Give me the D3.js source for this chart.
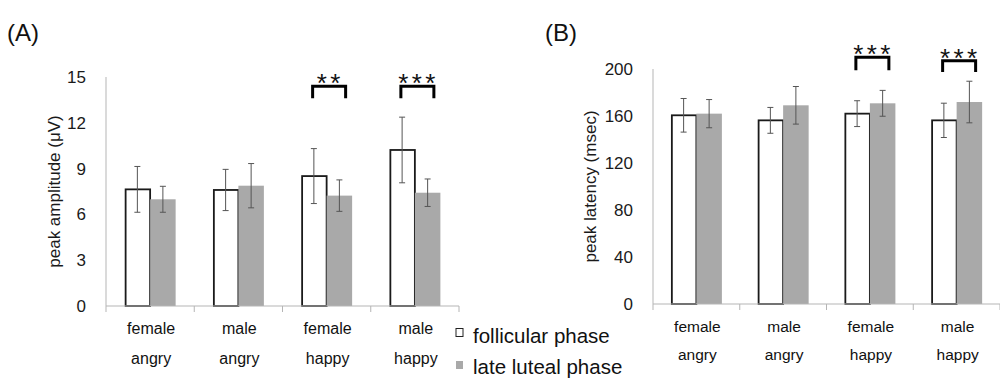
<!DOCTYPE html>
<html>
<head>
<meta charset="utf-8">
<script src="https://cdn.jsdelivr.net/npm/d3@7"></script>
<style>
  body { margin: 0; background: #fff; }
  svg { font-family: "Liberation Sans", Arial, sans-serif; }
</style>
</head>
<body>
<div id="chart"></div>
<script>
/* DATA */
const categories = ["female angry", "male angry", "female happy", "male happy"];
const series = ["follicular phase", "late luteal phase"];

// panel A: peak amplitude (uV)
const ampFollicular = [7.64, 7.6, 8.51, 10.22];
const ampFollicularErr = [1.5, 1.35, 1.8, 2.15];
const ampLuteal = [6.99, 7.88, 7.23, 7.42];
const ampLutealErr = [0.85, 1.45, 1.03, 0.9];
const ampTicks = [0, 3, 6, 9, 12, 15];
const ampSig = [
  { cat: "female happy", stars: "**", top: 14.4, bottom: 13.6 },
  { cat: "male happy", stars: "***", top: 14.4, bottom: 13.6 }
];

// panel B: peak latency (msec)
const latFollicular = [160.6, 156.3, 162, 156.3];
const latFollicularErr = [14.3, 11, 11, 14.6];
const latLuteal = [162, 169.1, 170.8, 171.9];
const latLutealErr = [12, 16, 11, 17.7];
const latTicks = [0, 40, 80, 120, 160, 200];
const latSig = [
  { cat: "female happy", stars: "***", top: 210, bottom: 199 },
  { cat: "male happy", stars: "***", top: 207, bottom: 197.5 }
];

const W = 1000, H = 388;
const svg = d3.select("#chart").append("svg")
  .attr("width", W)
  .attr("height", H);

const lutealFill = "#a9a9a9";
const starSpacing = 3.4;

function drawPanel(opt) {
  const x = d3.scaleBand()
    .domain(categories)
    .range([opt.left, opt.right])
    .paddingInner(0).paddingOuter(0);

  const xs = d3.scaleBand()
    .domain(series)
    .range([0, x.bandwidth()])
    .paddingInner(0).paddingOuter(opt.outerPad);

  const y = d3.scaleLinear()
    .domain([0, opt.max])
    .range([opt.bottom, opt.top]);

  const g = svg.append("g");

  // panel letter
  g.append("text")
    .attr("x", opt.letterX).attr("y", 41)
    .attr("font-size", 24).attr("fill", "#111")
    .text(opt.letter);

  // y axis line
  g.append("line")
    .attr("x1", opt.left).attr("x2", opt.left)
    .attr("y1", y(opt.max)).attr("y2", y(0))
    .attr("stroke", "#b5b5b5").attr("stroke-width", 1);

  // y tick labels
  g.selectAll(".ytick")
    .data(opt.ticks)
    .join("text")
    .attr("class", "ytick")
    .attr("x", opt.left - opt.tickGap)
    .attr("y", d => y(d))
    .attr("dy", "0.35em")
    .attr("text-anchor", "end")
    .attr("font-size", 17).attr("fill", "#1a1a1a")
    .text(d => d);

  // y axis title
  g.append("text")
    .attr("transform", `translate(${opt.titleX},${(y(opt.max) + y(0)) / 2}) rotate(-90)`)
    .attr("text-anchor", "middle")
    .attr("font-size", 17).attr("fill", "#1a1a1a")
    .text(opt.title);

  // bars
  const rows = categories.map((c, i) => [
    { cat: c, s: series[0], v: opt.foll[i], e: opt.follErr[i] },
    { cat: c, s: series[1], v: opt.lut[i], e: opt.lutErr[i] }
  ]).flat();

  g.selectAll(".bar")
    .data(rows)
    .join("rect")
    .attr("class", "bar")
    .attr("x", d => x(d.cat) + xs(d.s) + (d.s === series[0] ? 1 : 0))
    .attr("width", d => xs.bandwidth() - (d.s === series[0] ? 1 : 0))
    .attr("y", d => y(d.v))
    .attr("height", d => y(0) - y(d.v))
    .attr("fill", d => d.s === series[0] ? "#fff" : lutealFill)
    .attr("stroke", d => d.s === series[0] ? "#1a1a1a" : "none")
    .attr("stroke-width", 1.8);

  // x axis line + ticks
  g.append("line")
    .attr("x1", opt.left).attr("x2", opt.right)
    .attr("y1", y(0)).attr("y2", y(0))
    .attr("stroke", "#b5b5b5").attr("stroke-width", 1.2);

  g.selectAll(".xtick")
    .data(categories.map(c => x(c)).concat([opt.right]))
    .join("line")
    .attr("class", "xtick")
    .attr("x1", d => d).attr("x2", d => d)
    .attr("y1", y(0)).attr("y2", y(0) + 6)
    .attr("stroke", "#b5b5b5");

  // error bars
  const eb = g.selectAll(".err")
    .data(rows)
    .join("g")
    .attr("class", "err")
    .attr("transform", d => `translate(${x(d.cat) + xs(d.s) + xs.bandwidth() / 2},0)`)
    .attr("stroke", "#555").attr("stroke-width", 1);
  eb.append("line")
    .attr("y1", d => y(d.v + d.e)).attr("y2", d => y(d.v - d.e));
  eb.append("line")
    .attr("x1", -3).attr("x2", 3)
    .attr("y1", d => y(d.v + d.e)).attr("y2", d => y(d.v + d.e));
  eb.append("line")
    .attr("x1", -3).attr("x2", 3)
    .attr("y1", d => y(d.v - d.e)).attr("y2", d => y(d.v - d.e));

  // category labels (two lines)
  const lab = g.selectAll(".xlab")
    .data(categories)
    .join("g")
    .attr("class", "xlab")
    .attr("transform", d => `translate(${x(d) + x.bandwidth() / 2 + 1},0)`);
  lab.append("text")
    .attr("y", opt.lab1).attr("dy", "0.35em")
    .attr("text-anchor", "middle")
    .attr("font-size", opt.labSize).attr("fill", "#111")
    .text(d => d.split(" ")[0]);
  lab.append("text")
    .attr("y", opt.lab2).attr("dy", "0.35em")
    .attr("text-anchor", "middle")
    .attr("font-size", opt.labSize).attr("fill", "#111")
    .text(d => d.split(" ")[1]);

  // significance brackets
  const sg = g.selectAll(".sig")
    .data(opt.sig)
    .join("g")
    .attr("class", "sig")
    .attr("transform", d => `translate(${x(d.cat) + x.bandwidth() / 2 + 2},0)`);
  sg.append("path")
    .attr("d", d => `M-16,${y(d.bottom)}V${y(d.top)}H17V${y(d.bottom)}`)
    .attr("fill", "none").attr("stroke", "#000").attr("stroke-width", 3);
  sg.append("text")
    .attr("x", starSpacing / 2)
    .attr("y", d => y(d.top) + 6)
    .attr("text-anchor", "middle")
    .attr("letter-spacing", starSpacing)
    .attr("font-size", 26).attr("fill", "#111")
    .text(d => d.stars);
}

drawPanel({
  letter: "(A)", letterX: 7,
  left: 106, right: 459, top: 77, bottom: 306,
  max: 15, ticks: ampTicks, tickGap: 20, outerPad: 0.73,
  title: "peak amplitude (\u03bcV)", titleX: 60,
  foll: ampFollicular, follErr: ampFollicularErr,
  lut: ampLuteal, lutErr: ampLutealErr,
  sig: ampSig, lab1: 328, lab2: 358, labSize: 16
});

drawPanel({
  letter: "(B)", letterX: 545,
  left: 653, right: 1000, top: 69, bottom: 304,
  max: 200, ticks: latTicks, tickGap: 20, outerPad: 0.70,
  title: "peak latency (msec)", titleX: 596,
  foll: latFollicular, follErr: latFollicularErr,
  lut: latLuteal, lutErr: latLutealErr,
  sig: latSig, lab1: 327, lab2: 355, labSize: 15.5
});

// legend
const legend = svg.append("g");
legend.selectAll("rect")
  .data(series)
  .join("rect")
  .attr("x", 456)
  .attr("y", (d, i) => 328.5 + i * 32.5)
  .attr("width", 7).attr("height", 8)
  .attr("fill", (d, i) => i === 0 ? "#fff" : lutealFill)
  .attr("stroke", (d, i) => i === 0 ? "#222" : "none")
  .attr("stroke-width", 1);
legend.selectAll("text")
  .data(series)
  .join("text")
  .attr("x", 473)
  .attr("y", (d, i) => 342.5 + i * 31.5)
  .attr("font-size", 20.5).attr("fill", "#111")
  .text(d => d);
</script>
</body>
</html>
